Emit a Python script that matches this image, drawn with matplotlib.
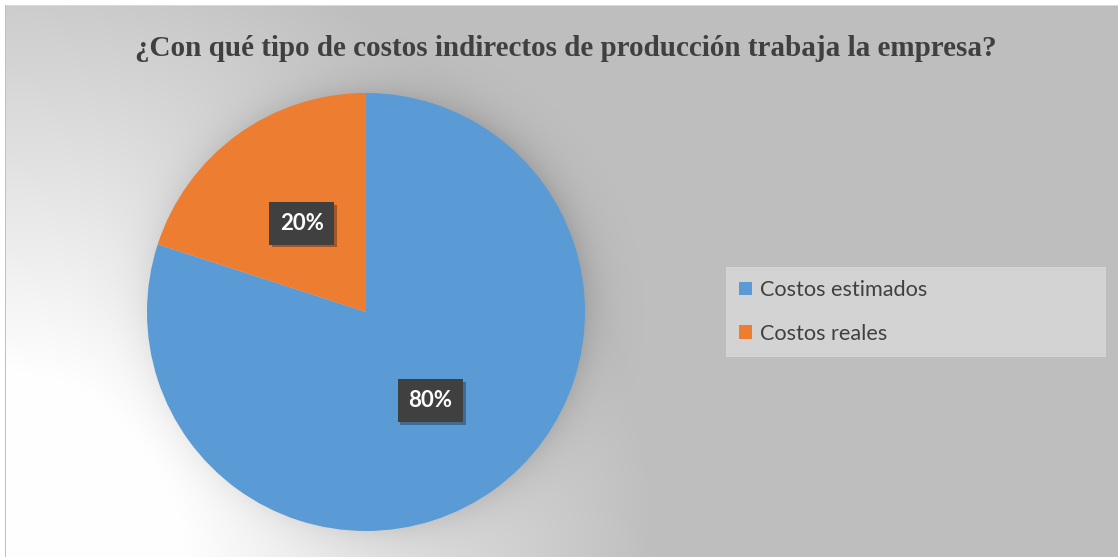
import numpy as np
import matplotlib
matplotlib.use("Agg")
import matplotlib.pyplot as plt
import matplotlib.patheffects as pe

# data
title = "¿Con qué tipo de costos indirectos de producción trabaja la empresa?"
categories = ["Costos estimados", "Costos reales"]
values = [80, 20]
colors = ["#5B9BD5", "#ED7D31"]

W, H = 1118, 557
fig = plt.figure(figsize=(W / 100, H / 100), dpi=100)
fig.patch.set_facecolor("white")

# background: gray with white glow from bottom-left and soft shadow round the pie
cx, cy, R = 366, 312, 219
yy, xx = np.mgrid[0:H, 0:W]
d = np.hypot(xx - 0, yy - H)
w = np.clip((650 - d) / 470, 0, 1)
bg = 191 + w * 64
de = np.clip(np.hypot(xx - cx, yy - cy) - R, 0, None)
shadow = 0.14 * np.exp(-de / 18) * (1 - 0.7 * w)
bg = bg * (1 - shadow)
bg[:5, :] = 255
bg[:, :5] = 255
bg[5, 5:] = 217
bg[5:, 5] = 192
bg_ax = fig.add_axes([0, 0, 1, 1])
bg_ax.imshow(np.dstack([bg, bg, bg]) / 255, aspect="auto", interpolation="bilinear")
bg_ax.axis("off")

fig.text(566 / W, 1 - 48 / H, title, ha="center", va="center",
         fontsize=21, fontweight="bold", family="Liberation Serif", color="#404040")

ax = fig.add_axes([(cx - R) / W, (H - cy - R) / H, 2 * R / W, 2 * R / H])
ax.set_facecolor("none")
wedges, texts = ax.pie(values, colors=colors, startangle=162, counterclock=True,
                       radius=1, wedgeprops=dict(linewidth=0))
ax.set_xlim(-1, 1)
ax.set_ylim(-1, 1)
ax.axis("off")

# data labels at half radius
for v, wdg in zip(values, wedges):
    mid = np.deg2rad((wdg.theta1 + wdg.theta2) / 2)
    t = ax.text(0.5 * np.cos(mid), 0.5 * np.sin(mid), f"{v}%", ha="center", va="center",
                fontsize=16, fontweight="bold", family="Lato", color="white",
                bbox=dict(boxstyle="square,pad=0.48", facecolor="#404040", edgecolor="none"))
    t.get_bbox_patch().set_path_effects([pe.SimplePatchShadow(offset=(2, -2), alpha=0.35),
                                         pe.Normal()])

leg = fig.legend(wedges, categories, loc="center", mode="expand",
                 bbox_to_anchor=(726 / W, 1 - 357 / H, 380 / W, 90 / H),
                 borderaxespad=0, frameon=True, fancybox=False,
                 prop=dict(family="Lato", size=15.6), labelcolor="#404040",
                 handlelength=0.6, handleheight=0.6, handletextpad=0.35,
                 labelspacing=1.1, borderpad=0.6)
leg.get_frame().set_facecolor("#D3D3D3")
leg.get_frame().set_edgecolor("none")
leg.get_frame().set_alpha(1)

fig.savefig("out.png", dpi=100)
